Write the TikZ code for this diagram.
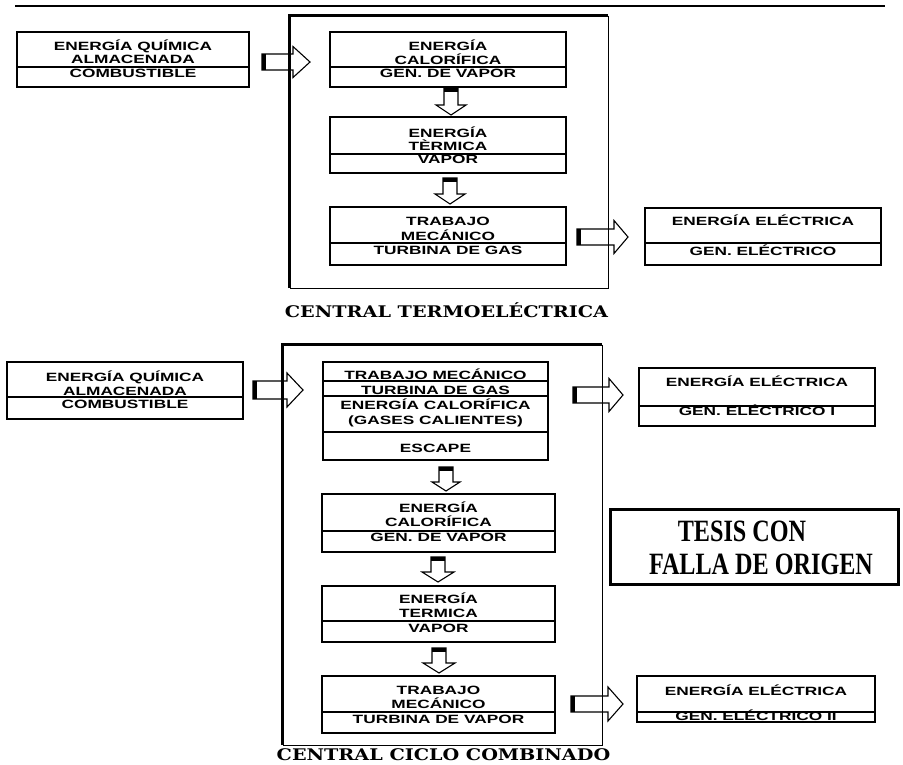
\documentclass[tikz,border=0pt]{standalone}
\usepackage{fontspec}
\usetikzlibrary{fit}
\newfontfamily\boxfont{Liberation Sans}[FakeStretch=1.44]
\newfontfamily\capfont{DejaVu Serif}[FakeStretch=1.2]
\newfontfamily\stampfont{Liberation Serif}[FakeStretch=0.78]
\newcommand\rblock[6]{%
  \draw[arr] (#1,#4-#5) -- (#2,#4-#5) -- (#2,#4-#6) -- (#3,#4) -- (#2,#4+#6) -- (#2,#4+#5) -- (#1,#4+#5) -- cycle;
  \fill (#1,#4-#5) rectangle (#1+3.5,#4+#5);}
\newcommand\dblock[6]{%
  \draw[arr] (#1-#5,#2) -- (#1-#5,#3) -- (#1-#6,#3) -- (#1,#4) -- (#1+#6,#3) -- (#1+#5,#3) -- (#1+#5,#2) -- cycle;
  \fill (#1-#5,#2) rectangle (#1+#5,#2+3.5);}
\begin{document}
\begin{tikzpicture}[x=1pt,y=-1pt,
  box/.style={draw, line width=1.2pt, inner sep=0pt},
  frm/.style={inner sep=0pt},
  div/.style={line width=1.1pt},
  lbl/.style={font=\boxfont\bfseries\fontsize{12}{12}\selectfont, anchor=base, inner sep=0pt},
  captxt/.style={font=\capfont\bfseries\fontsize{16}{16}\selectfont, anchor=base, inner sep=0pt},
  stp/.style={font=\stampfont\bfseries\fontsize{31}{31}\selectfont, anchor=base, inner sep=0pt},
  arr/.style={line width=1.1pt, line join=miter},
  ]
\useasboundingbox (0,0) rectangle (903,764);
\fill[white] (0,0) rectangle (903,764);

% top rule
\coordinate (r1) at (15,6);
\coordinate (r2) at (885,6);
\draw[line width=2pt] (r1) -- (r2);

% ===== CENTRAL TERMOELECTRICA =====
\node[frm, fit={(290,16) (608,288)}] (f1) {};
\draw[line width=0.8pt] (f1.north east) -- (f1.south east) -- (f1.south west);
\draw[line width=3pt] (f1.south west) -- (f1.north west) -- (f1.north east);

\node[box, fit={(17,32) (249,87)}] (q1) {};
\draw[div] (q1.west |- 0,67) -- (q1.east |- 0,67);
\node[lbl] (q1a) at (q1.center |- 0,50) {ENERGÍA QUÍMICA};
\node[lbl] (q1b) at (q1.center |- 0,63.5) {ALMACENADA};
\node[lbl] (q1c) at (q1.center |- 0,77) {COMBUSTIBLE};

\node[box, fit={(330,32) (566,87)}] (c1) {};
\draw[div] (c1.west |- 0,67) -- (c1.east |- 0,67);
\node[lbl] (c1a) at (c1.center |- 0,50) {ENERGÍA};
\node[lbl] (c1b) at (c1.center |- 0,64) {CALORÍFICA};
\node[lbl] (c1c) at (c1.center |- 0,77) {GEN. DE VAPOR};

\node[box, fit={(330,117) (566,173)}] (c2) {};
\draw[div] (c2.west |- 0,154) -- (c2.east |- 0,154);
\node[lbl] (c2a) at (c2.center |- 0,137) {ENERGÍA};
\node[lbl] (c2b) at (c2.center |- 0,150) {TÈRMICA};
\node[lbl] (c2c) at (c2.center |- 0,163) {VAPOR};

\node[box, fit={(330,207) (566,265)}] (c3) {};
\draw[div] (c3.west |- 0,243) -- (c3.east |- 0,243);
\node[lbl] (c3a) at (c3.center |- 0,225) {TRABAJO};
\node[lbl] (c3b) at (c3.center |- 0,240) {MECÁNICO};
\node[lbl] (c3c) at (c3.center |- 0,254) {TURBINA DE GAS};

\node[box, fit={(645,208) (881,265)}] (e1) {};
\draw[div] (e1.west |- 0,243) -- (e1.east |- 0,243);
\node[lbl] (e1a) at (e1.center |- 0,225) {ENERGÍA ELÉCTRICA};
\node[lbl] (e1b) at (e1.center |- 0,255) {GEN. ELÉCTRICO};

\rblock{262}{293}{310}{62}{8}{15.5}
\dblock{451}{88}{105}{115}{7}{15}
\dblock{450}{178}{194}{204}{7}{15}
\rblock{577}{614}{628}{237}{8}{16.5}

\node[captxt] (cap1) at (446.5,317) {CENTRAL TERMOELÉCTRICA};

% ===== CENTRAL CICLO COMBINADO =====
\node[frm, fit={(283,345) (602,745)}] (f2) {};
\draw[line width=0.8pt] (f2.north east) -- (f2.south east) -- (f2.south west);
\draw[line width=3pt] (f2.south west) -- (f2.north west) -- (f2.north east);

\node[box, fit={(7,362) (243,419)}] (q2) {};
\draw[div] (q2.west |- 0,397) -- (q2.east |- 0,397);
\node[lbl] (q2a) at (q2.center |- 0,381) {ENERGÍA QUÍMICA};
\node[lbl] (q2b) at (q2.center |- 0,395) {ALMACENADA};
\node[lbl] (q2c) at (q2.center |- 0,408) {COMBUSTIBLE};

\node[box, fit={(323,362) (548,460)}] (gA) {};
\draw[div] (gA.west |- 0,381) -- (gA.east |- 0,381);
\draw[div] (gA.west |- 0,396) -- (gA.east |- 0,396);
\draw[div] (gA.west |- 0,432) -- (gA.east |- 0,432);
\node[lbl] (gAa) at (gA.center |- 0,379) {TRABAJO MECÁNICO};
\node[lbl] (gAb) at (gA.center |- 0,394) {TURBINA DE GAS};
\node[lbl] (gAc) at (gA.center |- 0,409) {ENERGÍA CALORÍFICA};
\node[lbl] (gAd) at (gA.center |- 0,424) {(GASES CALIENTES)};
\node[lbl] (gAe) at (gA.center |- 0,452) {ESCAPE};

\node[box, fit={(322,494) (555,552)}] (gB) {};
\draw[div] (gB.west |- 0,531) -- (gB.east |- 0,531);
\node[lbl] (gBa) at (gB.center |- 0,512) {ENERGÍA};
\node[lbl] (gBb) at (gB.center |- 0,526) {CALORÍFICA};
\node[lbl] (gBc) at (gB.center |- 0,541) {GEN. DE VAPOR};

\node[box, fit={(322,586) (555,642)}] (gC) {};
\draw[div] (gC.west |- 0,621) -- (gC.east |- 0,621);
\node[lbl] (gCa) at (gC.center |- 0,603) {ENERGÍA};
\node[lbl] (gCb) at (gC.center |- 0,617) {TERMICA};
\node[lbl] (gCc) at (gC.center |- 0,632) {VAPOR};

\node[box, fit={(322,676) (555,733)}] (gD) {};
\draw[div] (gD.west |- 0,712) -- (gD.east |- 0,712);
\node[lbl] (gDa) at (gD.center |- 0,694) {TRABAJO};
\node[lbl] (gDb) at (gD.center |- 0,708) {MECÁNICO};
\node[lbl] (gDc) at (gD.center |- 0,723) {TURBINA DE VAPOR};

\node[box, fit={(639,368) (875,426)}] (e2) {};
\draw[div] (e2.west |- 0,406) -- (e2.east |- 0,406);
\node[lbl] (e2a) at (e2.center |- 0,386) {ENERGÍA ELÉCTRICA};
\node[lbl] (e2b) at (e2.center |- 0,415) {GEN. ELÉCTRICO I};

\node[box, fit={(637,676) (875,722)}] (e3) {};
\draw[div] (e3.west |- 0,712) -- (e3.east |- 0,712);
\node[lbl] (e3a) at (e3.center |- 0,695) {ENERGÍA ELÉCTRICA};
\node[lbl] (e3b) at (e3.center |- 0,720) {GEN. ELÉCTRICO II};

\rblock{253}{287}{303}{390}{9}{17}
\rblock{573}{609}{623}{395}{8}{16.5}
\dblock{446}{467}{482}{491}{7}{14}
\dblock{438}{557}{572}{582}{7}{16}
\dblock{439}{648}{663}{673}{7}{16}
\rblock{571}{608}{623}{704}{8}{17}

\node[captxt] (cap2) at (443.5,760) {CENTRAL CICLO COMBINADO};

% stamp
\node[draw, line width=3pt, inner sep=0pt, fit={(610,509) (898,584)}] (st) {};
\node[stp] (sta) at (742,541) {TESIS CON};
\node[stp] (stb) at (761,574) {FALLA DE ORIGEN};
\end{tikzpicture}
\end{document}
